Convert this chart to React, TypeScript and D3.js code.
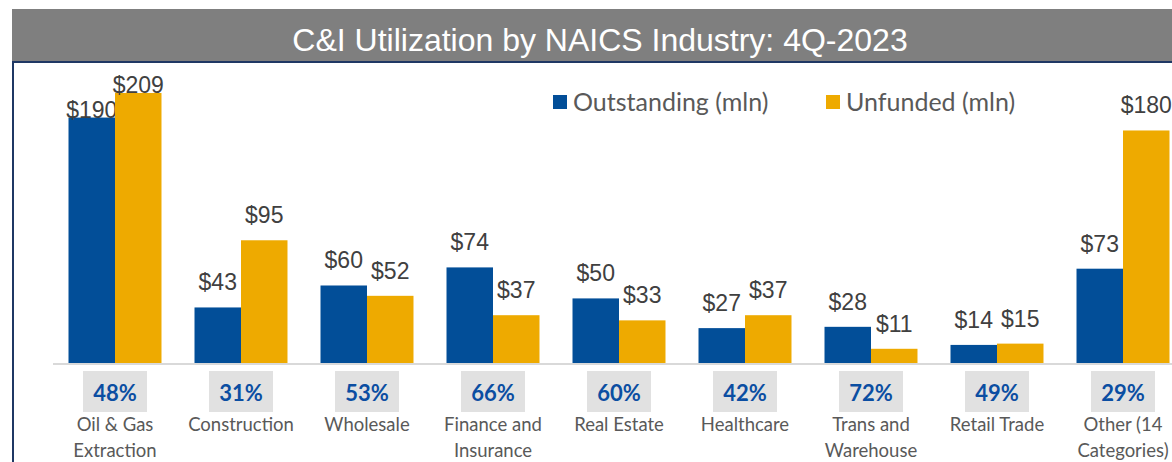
import * as d3 from "d3";
import { useEffect, useRef } from "react";

const categories = [
  "Oil & Gas\nExtraction",
  "Construction",
  "Wholesale",
  "Finance and\nInsurance",
  "Real Estate",
  "Healthcare",
  "Trans and\nWarehouse",
  "Retail Trade",
  "Other (14\nCategories)",
];
const outstanding = [190, 43, 60, 74, 50, 27, 28, 14, 73];
const unfunded = [209, 95, 52, 37, 33, 37, 11, 15, 180];
const utilization = [48, 31, 53, 66, 60, 42, 72, 49, 29];
const seriesNames = ["Outstanding (mln)", "Unfunded (mln)"];

const BLUE = "#024E98";
const ORANGE = "#EEAA00";
const CALIBRI = "Lato, 'Open Sans', sans-serif";
const ARIAL = "'Liberation Sans', Arial, sans-serif";

const App = () => {
  const ref = useRef<SVGSVGElement>(null);

  useEffect(() => {
    const svg = d3.select(ref.current);
    svg.selectAll("*").remove();

    const width = 1172;
    const height = 462;
    const baseY = 363;

    svg.append("rect").attr("width", width).attr("height", height).attr("fill", "#fff");

    // title band
    svg.append("rect")
      .attr("x", 12).attr("y", 9).attr("width", width - 12).attr("height", 53)
      .attr("fill", "#7F7F7F");
    svg.append("text")
      .attr("x", 600).attr("y", 51)
      .attr("text-anchor", "middle")
      .attr("fill", "#fff")
      .style("font-family", ARIAL)
      .style("font-size", "32px")
      .text("C&I Utilization by NAICS Industry: 4Q-2023");

    // navy frame
    svg.append("path")
      .attr("d", `M13,${height} L13,62 L${width},62`)
      .attr("fill", "none")
      .attr("stroke", "#1F3864")
      .attr("stroke-width", 2);

    const x = d3.scaleBand<string>()
      .domain(categories)
      .range([52, 1186])
      .paddingInner(0.262)
      .paddingOuter(0.131);

    const xs = d3.scaleBand<string>()
      .domain(seriesNames)
      .range([0, x.bandwidth()]);

    const y = d3.scaleLinear().domain([0, 220]).range([baseY, baseY - 284.2]);

    const colors = [BLUE, ORANGE];
    const series = [outstanding, unfunded];

    series.forEach((vals, si) => {
      const g = svg.append("g");
      g.selectAll("rect")
        .data(vals)
        .enter()
        .append("rect")
        .attr("x", (d, i) => (x(categories[i]) as number) + (xs(seriesNames[si]) as number))
        .attr("y", d => y(d))
        .attr("width", xs.bandwidth())
        .attr("height", d => baseY - y(d))
        .attr("fill", colors[si]);

      g.selectAll("text")
        .data(vals)
        .enter()
        .append("text")
        .attr("x", (d, i) => (x(categories[i]) as number) + (xs(seriesNames[si]) as number) + xs.bandwidth() / 2)
        .attr("y", d => (y(d) - 17 < 105 ? y(d) : y(d) - 17))
        .attr("text-anchor", "middle")
        .attr("fill", "#404040")
        .style("font-family", ARIAL)
        .style("font-size", "23px")
        .text(d => `$${d}`);
    });

    // baseline
    svg.append("line")
      .attr("x1", 53).attr("x2", width)
      .attr("y1", baseY + 1).attr("y2", baseY + 1)
      .attr("stroke", "#D9D9D9")
      .attr("stroke-width", 2);

    // utilization boxes
    const pg = svg.append("g");
    categories.forEach((c, i) => {
      const cx = (x(c) as number) + x.bandwidth() / 2;
      pg.append("rect")
        .attr("x", cx - 32).attr("y", 371).attr("width", 64).attr("height", 41)
        .attr("fill", "#E1E1E1");
      pg.append("text")
        .attr("x", cx).attr("y", 401)
        .attr("text-anchor", "middle")
        .attr("fill", "#0B4EA2")
        .style("font-family", CALIBRI)
        .style("font-size", "22px")
        .style("font-weight", "bold")
        .text(`${utilization[i]}%`);
      const lines = c.split("\n");
      const t = pg.append("text")
        .attr("text-anchor", "middle")
        .attr("fill", "#595959")
        .style("font-family", CALIBRI)
        .style("font-size", "18.5px");
      lines.forEach((l, li) => {
        t.append("tspan").attr("x", cx).attr("y", 431 + li * 26).text(l);
      });
    });

    // legend
    const legendX = [553, 826];
    seriesNames.forEach((s, si) => {
      svg.append("rect")
        .attr("x", legendX[si]).attr("y", 95).attr("width", 14).attr("height", 14)
        .attr("fill", colors[si]);
      svg.append("text")
        .attr("x", legendX[si] + 20).attr("y", 111)
        .attr("fill", "#595959")
        .style("font-family", CALIBRI)
        .style("font-size", "25px")
        .text(s);
    });
  }, []);

  return (
    <svg
      ref={ref}
      width="1172"
      height="462"
      style={{ position: "absolute", left: 0, top: 0 }}
    ></svg>
  );
};

export default App;
